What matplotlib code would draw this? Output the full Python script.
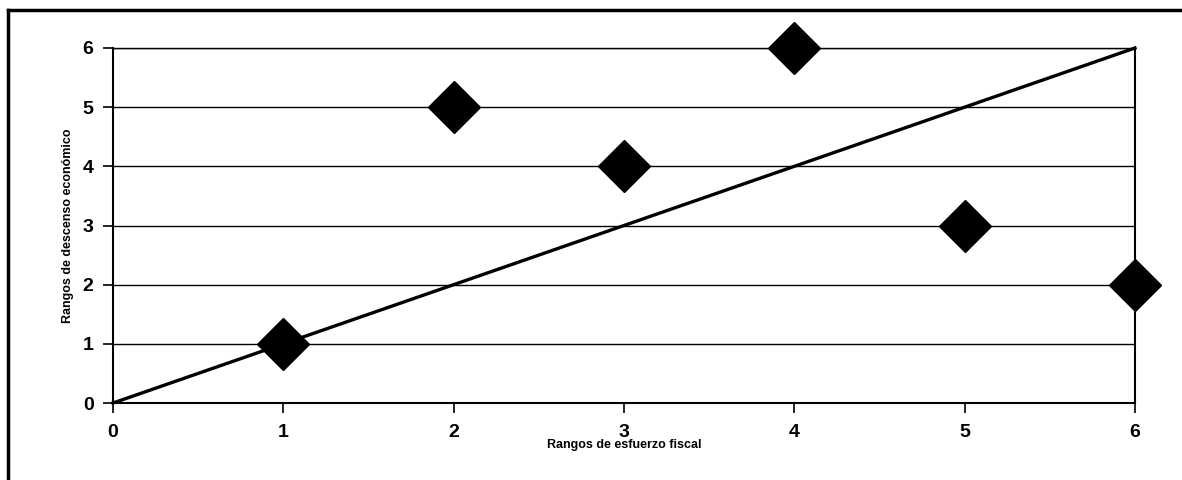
import matplotlib.pyplot as plt
from matplotlib.lines import Line2D

plt.rcParams['font.family'] = ['Liberation Sans', 'DejaVu Sans']

# rangos
esfuerzo = [1, 2, 3, 4, 5, 6]
descenso = [1, 5, 4, 6, 3, 2]

# linea de igualdad
linea_x = [0, 6]
linea_y = [0, 6]

ticks = [0, 1, 2, 3, 4, 5, 6]

fig = plt.figure(figsize=(11.82, 4.8), dpi=100)
ax = fig.add_axes([0.0956, 0.1604, 0.8646, 0.7396])

ax.plot(linea_x, linea_y, color='black', lw=2.4, zorder=3, clip_on=False)
ax.plot(esfuerzo, descenso, linestyle='none', marker='D', ms=26,
        color='black', zorder=4, clip_on=False)

ax.set_xlim(0, 6)
ax.set_ylim(0, 6)
ax.set_xticks(ticks)
ax.set_yticks(ticks)
ax.grid(axis='y', color='black', lw=1.0)
ax.set_axisbelow(True)
for s in ax.spines.values():
    s.set_linewidth(1.5)
ax.spines['top'].set_linewidth(1.0)
ax.tick_params(direction='out', length=7, width=1.2, labelsize=14)
ax.tick_params(axis='x', pad=8)
ax.tick_params(axis='y', pad=7)
for lab in ax.get_xticklabels() + ax.get_yticklabels():
    lab.set_fontweight('semibold')

ax.set_xlabel('Rangos de esfuerzo fiscal', fontsize=9, fontweight='bold', labelpad=-1)
ax.set_ylabel('Rangos de descenso económico', fontsize=9, fontweight='bold', labelpad=6)

# marco exterior
fig.add_artist(Line2D([8 / 1182, 8 / 1182], [0, 1 - 10 / 480], color='black', lw=2.5,
                      transform=fig.transFigure))
fig.add_artist(Line2D([8 / 1182, 1], [1 - 10 / 480, 1 - 10 / 480], color='black', lw=2.5,
                      transform=fig.transFigure))

fig.savefig('out.png', dpi=100)
